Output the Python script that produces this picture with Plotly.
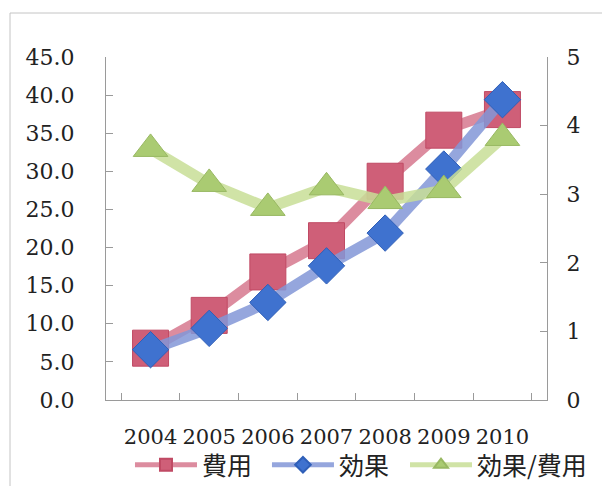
import plotly.graph_objects as go

years = ["2004", "2005", "2006", "2007", "2008", "2009", "2010"]
cost = [6.8, 11.1, 16.8, 20.9, 28.7, 35.4, 38.1]
effect = [6.6, 9.4, 12.8, 17.6, 21.9, 30.3, 39.4]
ratio = [3.66, 3.15, 2.80, 3.10, 2.90, 3.06, 3.82]
names = ["費用", "効果", "効果/費用"]

serif = "DejaVu Serif"
cjk = "Noto Sans CJK JP"

fig = go.Figure()
fig.add_trace(go.Scatter(
    x=years, y=cost, name=names[0], mode="lines+markers", legend="legend",
    line=dict(color="rgba(214,120,142,0.85)", width=11),
    marker=dict(symbol="square", size=36, color="#cf5f78",
                line=dict(color="#c04a64", width=1)),
))
fig.add_trace(go.Scatter(
    x=years, y=effect, name=names[1], mode="lines+markers", legend="legend2",
    line=dict(color="rgba(130,150,215,0.85)", width=11),
    marker=dict(symbol="diamond", size=28, color="#3f72cf",
                line=dict(color="#2f5fb8", width=1)),
))
fig.add_trace(go.Scatter(
    x=years, y=ratio, name=names[2], mode="lines+markers", yaxis="y2", legend="legend3",
    line=dict(color="rgba(200,222,150,0.85)", width=11),
    marker=dict(symbol="triangle-up", size=30, color="#aacb72",
                line=dict(color="#98b862", width=1)),
))

def leg(xpos):
    return dict(orientation="h", x=xpos, xanchor="left",
                yref="container", y=1 - 465 / 486, yanchor="middle",
                font=dict(family=cjk, size=25, color="#222"),
                itemwidth=62, itemsizing="constant",
                bgcolor="rgba(0,0,0,0)")

axis_col = "#9a9a9a"
fig.update_layout(
    width=602, height=486,
    margin=dict(l=106, r=55, t=57, b=86, autoexpand=False),
    paper_bgcolor="white", plot_bgcolor="white",
    showlegend=True,
    legend=leg(0.0544), legend2=leg(0.365), legend3=leg(0.678),
    xaxis=dict(type="category", showline=True, linecolor=axis_col, linewidth=1,
               ticks="inside", ticklen=7, tickcolor=axis_col, tickson="boundaries",
               showgrid=False, zeroline=False, ticklabelstandoff=18, tickangle=0,
               automargin=False,
               tickfont=dict(family=serif, size=21, color="#222")),
    yaxis=dict(range=[0, 45], dtick=5, tickformat=".1f", showline=True,
               linecolor=axis_col, linewidth=1, ticks="inside", ticklen=7,
               tickcolor=axis_col, showgrid=False, zeroline=False, automargin=False,
               ticklabelstandoff=26, tickfont=dict(family=serif, size=22, color="#222")),
    yaxis2=dict(range=[0, 5], dtick=1, overlaying="y", side="right", showline=True,
                linecolor=axis_col, linewidth=1, ticks="inside", ticklen=7,
                tickcolor=axis_col, showgrid=False, zeroline=False, automargin=False,
                ticklabelstandoff=14, tickfont=dict(family=serif, size=22, color="#222")),
    shapes=[dict(type="rect", xref="paper", yref="paper",
                 x0=(10 - 106) / 441, x1=(610 - 106) / 441,
                 y0=(400 - 495) / 343, y1=(400 - 13) / 343,
                 line=dict(color="#c4c4c4", width=1), layer="below")],
)

fig.write_html(
    "out.html",
    config={"displayModeBar": False},
    post_script="document.body.style.margin='0';document.body.style.overflow='hidden';",
)
